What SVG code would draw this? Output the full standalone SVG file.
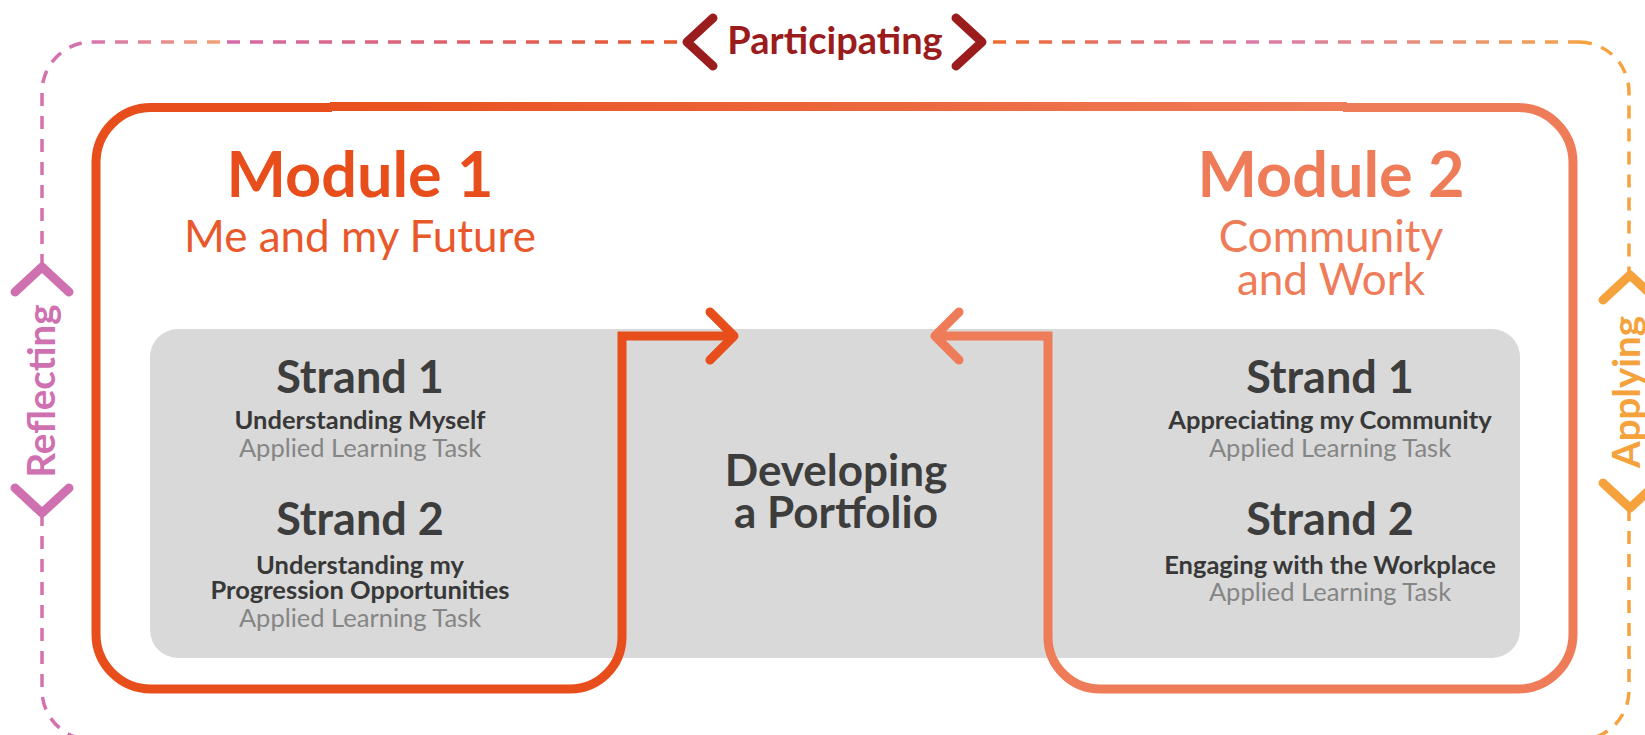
<svg xmlns="http://www.w3.org/2000/svg" width="1645" height="735" viewBox="0 0 1645 735">
<defs>
<style>
.dash{fill:none;stroke-width:3.5;stroke-dasharray:13 10}
.chev{fill:none;stroke-width:9;stroke-linecap:round;stroke-linejoin:round}
.frame{fill:none;stroke-width:9}
.arrowhead{fill:none;stroke-width:9;stroke-linecap:round;stroke-linejoin:round}
.t{font-family:Lato,"Liberation Sans",sans-serif;text-anchor:middle}
.b{font-weight:700}
.mod{font-size:63px;font-weight:700}
.sub{font-size:44px;font-weight:400}
.strand{font-size:45px;font-weight:700;fill:#3d3d3d}
.st{font-size:25.5px;font-weight:700;fill:#383838}
.alt{font-size:25.5px;font-weight:400;fill:#858585}
.side{font-size:38.5px;font-weight:700}
</style>
<linearGradient id="gTopL1" gradientUnits="userSpaceOnUse" x1="92" y1="0" x2="227" y2="0">
<stop offset="0" stop-color="#d873ad"/><stop offset="1" stop-color="#f2a470"/>
</linearGradient>
<linearGradient id="gTopL2" gradientUnits="userSpaceOnUse" x1="227" y1="0" x2="677" y2="0">
<stop offset="0" stop-color="#d46aa8"/><stop offset="1" stop-color="#e8562a"/>
</linearGradient>
<linearGradient id="gTopR" gradientUnits="userSpaceOnUse" x1="993" y1="0" x2="1579" y2="0">
<stop offset="0" stop-color="#ee6a2e"/><stop offset="0.45" stop-color="#d97aa8"/><stop offset="1" stop-color="#f3a24c"/>
</linearGradient>
<linearGradient id="gFrameTop" gradientUnits="userSpaceOnUse" x1="330" y1="0" x2="1345" y2="0">
<stop offset="0" stop-color="#e8501e"/><stop offset="1" stop-color="#ef7c59"/>
</linearGradient>
</defs>

<!-- outer dashed cycle -->
<g id="outer-cycle">
<path class="dash" stroke="#d472ad" d="M42 267 V92 A50 50 0 0 1 92 42"/>
<path class="dash" stroke="url(#gTopL1)" d="M92 42 H227"/>
<path class="dash" stroke="url(#gTopL2)" d="M227 42 H677"/>
<path class="dash" stroke="url(#gTopR)" d="M993 42 H1579"/>
<path class="dash" stroke="#f5a33f" d="M1579 42 A50 50 0 0 1 1629 92 V275"/>
<path class="dash" stroke="#d472ad" d="M42 513 V690 A50 50 0 0 0 92 740"/>
<path class="dash" stroke="#f5a33f" d="M1629 508 V690 A50 50 0 0 1 1579 740"/>
</g>

<g id="participating">
<path class="chev" stroke="#9b1c1c" d="M713 18 L687 42 L713 66"/>
<path class="chev" stroke="#9b1c1c" d="M956 18 L982 42 L956 66"/>
<text class="t b" x="835" y="54" font-size="38" fill="#9b1c1c">Participating</text>
</g>

<g id="reflecting">
<path class="chev" stroke="#cf70b0" d="M15 292 L42 267 L69 292"/>
<path class="chev" stroke="#cf70b0" d="M15 488 L42 513 L69 488"/>
<text class="t side" transform="translate(55 391) rotate(-90)" fill="#cf70b0">Reflecting</text>
</g>

<g id="applying">
<path class="chev" stroke="#f5a23d" d="M1603 300 L1630 275 L1657 300"/>
<path class="chev" stroke="#f5a23d" d="M1603 483 L1630 508 L1657 483"/>
<text class="t side" transform="translate(1640 392) rotate(-90)" fill="#f5a23d">Applying</text>
</g>

<g id="panel">
<rect x="150" y="329" width="1370" height="329" rx="28" fill="#d9d9d9"/>
</g>

<g id="connectors">
<path class="frame" stroke="#e84e1b" stroke-linejoin="miter" d="M733 336 H622 V637 A52 52 0 0 1 570 689 H151 A55 55 0 0 1 96 634 V162 A55 55 0 0 1 151 107.5 H332"/>
<path class="arrowhead" stroke="#e84e1b" d="M710 312 L734 336 L710 360"/>
<path class="frame" stroke="url(#gFrameTop)" d="M330 106.5 H1347"/>
<path class="frame" stroke="#ef7c59" stroke-linejoin="miter" d="M1343 107.5 H1518 A55 55 0 0 1 1573 162 V634 A55 55 0 0 1 1518 689 H1100 A52 52 0 0 1 1048 637 V336 H936"/>
<path class="arrowhead" stroke="#ef7c59" d="M959 312 L935 336 L959 360"/>
</g>

<g id="module1">
<text class="t mod" x="360" y="197" fill="#e84e1b">Module 1</text>
<text class="t sub" x="360" y="252" fill="#e9582a">Me and my Future</text>
</g>

<g id="module2">
<text class="t mod" x="1331" y="197" fill="#ef7c59">Module 2</text>
<text class="t sub" x="1331" y="252" font-size="43.5" fill="#ef7c59">Community</text>
<text class="t sub" x="1331" y="295" font-size="43.5" fill="#ef7c59">and Work</text>
</g>

<g id="m1-strand1">
<text class="t strand" x="360" y="393">Strand 1</text>
<text class="t st" x="360" y="429">Understanding Myself</text>
<text class="t alt" x="360" y="457">Applied Learning Task</text>
</g>
<g id="m1-strand2">
<text class="t strand" x="360" y="535">Strand 2</text>
<text class="t st" x="360" y="574">Understanding my</text>
<text class="t st" x="360" y="599">Progression Opportunities</text>
<text class="t alt" x="360" y="627">Applied Learning Task</text>
</g>

<g id="m2-strand1">
<text class="t strand" x="1330" y="393">Strand 1</text>
<text class="t st" x="1330" y="429">Appreciating my Community</text>
<text class="t alt" x="1330" y="457">Applied Learning Task</text>
</g>
<g id="m2-strand2">
<text class="t strand" x="1330" y="535">Strand 2</text>
<text class="t st" x="1330" y="574">Engaging with the Workplace</text>
<text class="t alt" x="1330" y="601">Applied Learning Task</text>
</g>

<g id="portfolio">
<text class="t b" x="836" y="486" font-size="44" fill="#3d3d3d">Developing</text>
<text class="t b" x="836" y="528" font-size="44" fill="#3d3d3d">a Portfolio</text>
</g>
</svg>
